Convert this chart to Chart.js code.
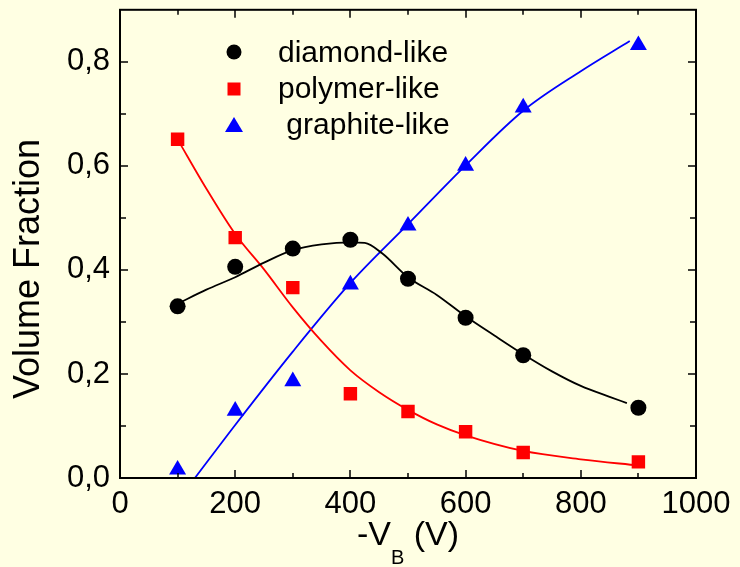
<!DOCTYPE html>
<html>
<head>
<meta charset="utf-8">
<script src="https://cdn.jsdelivr.net/npm/chart.js@4.4.1/dist/chart.umd.min.js"></script>
<style>
  html, body { margin:0; padding:0; background:#ffffe3; }
</style>
</head>
<body>
<canvas id="chart" width="740" height="567"></canvas>
<script>
// ---------- data ----------
const biasV = [100, 200, 300, 400, 500, 600, 700, 900];
const diamond = [0.330, 0.406, 0.441, 0.458, 0.383, 0.308, 0.236, 0.135];
const polymer = [0.651, 0.462, 0.366, 0.162, 0.128, 0.089, 0.049, 0.031];
const graphite = [0.016, 0.129, 0.186, 0.372, 0.485, 0.600, 0.712, 0.832];

// fitted curves
const diamondFitX = [100, 150, 200, 250, 300, 350, 400, 425, 455, 500, 550, 600, 650, 700, 750, 800, 850, 880];
const diamondFitY = [0.335, 0.362, 0.386, 0.414, 0.438, 0.449, 0.453, 0.452, 0.432, 0.386, 0.352, 0.311, 0.274, 0.238, 0.205, 0.177, 0.156, 0.144];
const polymerFitX = [100, 150, 200, 250, 300, 350, 400, 450, 500, 550, 600, 700, 800, 900];
const polymerFitY = [0.651, 0.556, 0.469, 0.401, 0.328, 0.263, 0.207, 0.165, 0.131, 0.103, 0.082, 0.052, 0.036, 0.024];
const graphiteFitX = [130, 200, 300, 400, 500, 600, 700, 800, 885];
const graphiteFitY = [0.000, 0.102, 0.243, 0.375, 0.488, 0.601, 0.706, 0.782, 0.840];

const xTicks = [0, 200, 400, 600, 800, 1000];
const yTicks = [0, 0.2, 0.4, 0.6, 0.8];
const legendLabels = ["diamond-like", "polymer-like", " graphite-like"];

const FONT = '"Liberation Sans", Arial, sans-serif';
const BG = '#ffffe3';

function pts(xs, ys){ return xs.map((x, i) => ({ x: x, y: ys[i] })); }

// ---------- plugins ----------
const bgPlugin = {
  id: 'bg',
  beforeDraw(chart){
    const ctx = chart.ctx;
    ctx.save();
    ctx.fillStyle = BG;
    ctx.fillRect(0, 0, chart.width, chart.height);
    ctx.restore();
  }
};

const framePlugin = {
  id: 'frame',
  afterDatasetsDraw(chart){
    const ctx = chart.ctx, a = chart.chartArea;
    const sx = chart.scales.x, sy = chart.scales.y;
    ctx.save();
    ctx.strokeStyle = '#000';
    ctx.lineWidth = 2;
    ctx.strokeRect(a.left, a.top, a.right - a.left, a.bottom - a.top);
    ctx.lineWidth = 1.5;
    ctx.beginPath();
    for (let v = 100; v < 1000; v += 100){
      const px = Math.round(sx.getPixelForValue(v));
      const len = (v % 200 === 0) ? 8 : 5;
      ctx.moveTo(px, a.bottom); ctx.lineTo(px, a.bottom - len);
      ctx.moveTo(px, a.top); ctx.lineTo(px, a.top + len);
    }
    for (let k = 1; k <= 8; k++){
      const py = Math.round(sy.getPixelForValue(k / 10));
      const len = (k % 2 === 0) ? 8 : 6;
      ctx.moveTo(a.left, py); ctx.lineTo(a.left + len, py);
      ctx.moveTo(a.right, py); ctx.lineTo(a.right - len, py);
    }
    ctx.stroke();
    ctx.restore();
  }
};

const textPlugin = {
  id: 'texts',
  afterDraw(chart){
    const ctx = chart.ctx, a = chart.chartArea;
    ctx.save();
    ctx.fillStyle = '#000';

    // y title
    ctx.font = '36px ' + FONT;
    ctx.textAlign = 'center';
    ctx.textBaseline = 'middle';
    ctx.translate(29, 269);
    ctx.rotate(-Math.PI / 2);
    ctx.fillText('Volume Fraction', 0, 0);
    ctx.setTransform(1, 0, 0, 1, 0, 0);

    // x title: -V_B (V)
    ctx.textAlign = 'left';
    ctx.textBaseline = 'alphabetic';
    const big = '34px ' + FONT, small = '20px ' + FONT;
    ctx.font = big; const w1 = ctx.measureText('-V').width;
    ctx.font = small; const w2 = ctx.measureText('B').width;
    ctx.font = big; const w3 = ctx.measureText(' (V)').width;
    let x0 = (a.left + a.right) / 2 - (w1 + w2 + w3) / 2;
    const base = 545;
    ctx.font = big; ctx.fillText('-V', x0, base);
    ctx.font = small; ctx.fillText('B', x0 + w1, base + 19);
    ctx.font = big; ctx.fillText(' (V)', x0 + w1 + w2, base);

    // legend
    const mx = 234, tx = 278;
    const rows = [52, 89, 125];
    const bases = [62, 98, 134];
    ctx.fillStyle = '#000';
    ctx.beginPath(); ctx.arc(mx, rows[0], 7.5, 0, Math.PI * 2); ctx.fill();
    ctx.fillStyle = '#ff0000';
    ctx.fillRect(mx - 6.5, rows[1] - 6.5, 13, 13);
    ctx.fillStyle = '#0000ff';
    ctx.beginPath();
    ctx.moveTo(mx, rows[2] - 8); ctx.lineTo(mx + 9, rows[2] + 7); ctx.lineTo(mx - 9, rows[2] + 7);
    ctx.closePath(); ctx.fill();
    ctx.fillStyle = '#000';
    ctx.font = '30px ' + FONT;
    legendLabels.forEach((t, i) => ctx.fillText(t, tx, bases[i]));
    ctx.restore();
  }
};

// ---------- chart ----------
new Chart(document.getElementById('chart'), {
  type: 'scatter',
  data: {
    datasets: [
      { label: 'diamond-like', data: pts(biasV, diamond), pointStyle: 'circle', pointRadius: 8,
        backgroundColor: '#000', borderWidth: 0, showLine: false },
      { label: 'polymer-like', data: pts(biasV, polymer), pointStyle: 'rect', pointRadius: 9.5,
        backgroundColor: '#ff0000', borderWidth: 0, showLine: false },
      { label: 'graphite-like', data: pts(biasV, graphite), pointStyle: 'triangle', pointRadius: 9.8,
        backgroundColor: '#0000ff', borderWidth: 0, showLine: false },
      { label: 'fit d', data: pts(diamondFitX, diamondFitY), showLine: true, pointRadius: 0,
        borderColor: '#000', borderWidth: 1.8, cubicInterpolationMode: 'monotone' },
      { label: 'fit p', data: pts(polymerFitX, polymerFitY), showLine: true, pointRadius: 0,
        borderColor: '#ff0000', borderWidth: 1.8, cubicInterpolationMode: 'monotone' },
      { label: 'fit g', data: pts(graphiteFitX, graphiteFitY), showLine: true, pointRadius: 0,
        borderColor: '#0000ff', borderWidth: 1.8, cubicInterpolationMode: 'monotone' }
    ]
  },
  options: {
    responsive: false,
    animation: false,
    devicePixelRatio: 1,
    layout: { padding: { left: 0, right: 44, top: 9, bottom: 0 } },
    plugins: { legend: { display: false }, tooltip: { enabled: false } },
    scales: {
      x: {
        type: 'linear', min: 0, max: 1000,
        afterBuildTicks: s => { s.ticks = xTicks.map(v => ({ value: v })); },
        afterFit: s => { s.height = 89; s.paddingLeft = 0; s.paddingRight = 0; },
        grid: { display: false, drawTicks: false },
        border: { display: false },
        ticks: { color: '#000', font: { family: FONT, size: 31 }, padding: 8,
                 maxRotation: 0, autoSkip: false, callback: v => String(v) }
      },
      y: {
        type: 'linear', min: 0, max: 0.9,
        afterBuildTicks: s => { s.ticks = yTicks.map(v => ({ value: v })); },
        afterFit: s => { s.width = 120; s.paddingTop = 0; s.paddingBottom = 0; },
        grid: { display: false, drawTicks: false },
        border: { display: false },
        ticks: { color: '#000', font: { family: FONT, size: 31 }, padding: 10,
                 callback: v => v.toFixed(1).replace('.', ',') }
      }
    }
  },
  plugins: [bgPlugin, framePlugin, textPlugin]
});
</script>
</body>
</html>
